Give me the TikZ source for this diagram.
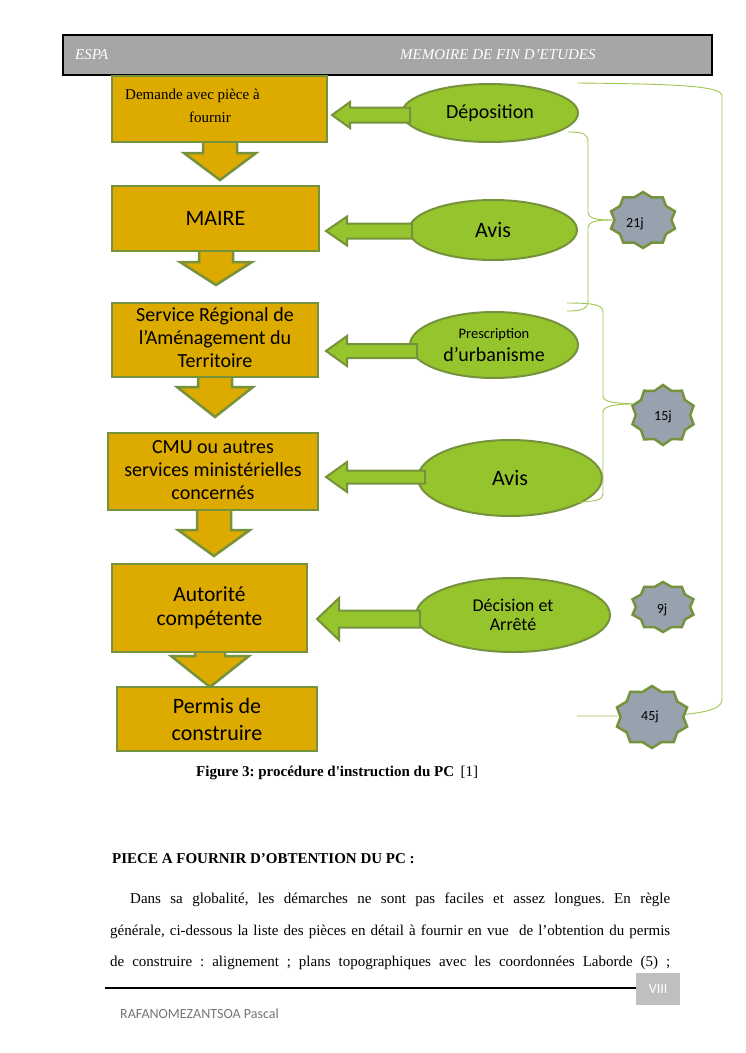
\documentclass[tikz,border=0pt]{standalone}
\usepackage{fontspec}
\setmainfont{Liberation Serif}
\newfontfamily\calibri{Carlito}
\newfontfamily\serifplain[Ligatures=TeXOff]{Liberation Serif}
\usetikzlibrary{shapes.geometric}
\definecolor{gold}{RGB}{221,170,0}
\definecolor{oline}{RGB}{118,146,60}
\definecolor{lgreen}{RGB}{150,196,44}
\definecolor{sgray}{RGB}{151,162,174}
\definecolor{bline}{RGB}{160,198,80}
\definecolor{hgray}{RGB}{166,166,166}
\definecolor{fgray}{RGB}{191,191,191}
\definecolor{ngray}{RGB}{118,118,118}
\frenchspacing
\newcommand\downarr[6]{\draw[darrow] ({#1-#5},#2) -- ({#1+#5},#2) -- ({#1+#5},#3) -- ({#1+#6},#3) -- (#1,#4) -- ({#1-#6},#3) -- ({#1-#5},#3) -- cycle;}
\newcommand\leftarr[6]{\draw[garrow] (#1,#2) -- (#3,{#2-#4}) -- (#3,{#2-#5}) -- (#6,{#2-#5}) -- (#6,{#2+#5}) -- (#3,{#2+#5}) -- (#3,{#2+#4}) -- cycle;}
\begin{document}
\begin{tikzpicture}[x=1pt,y=-1pt,
  gbox/.style={draw=oline, line width=2.5pt, fill=gold, inner sep=0, align=center, font=\calibri\fontsize{20}{23}\selectfont},
  ell/.style={ellipse, draw=oline, line width=2pt, fill=lgreen, inner sep=0, align=center, font=\calibri\fontsize{20}{23}\selectfont},
  garrow/.style={draw=oline, line width=2pt, fill=lgreen, line join=miter},
  darrow/.style={draw=oline, line width=2.5pt, fill=gold, line join=miter},
  starnode/.style={star, star points=10, star point ratio=1.18, draw=oline, line width=2.5pt, fill=sgray, inner sep=0},
  startxt/.style={font=\calibri\fontsize{14}{16}\selectfont, inner sep=0},
  brc/.style={draw=bline, line width=0.9pt},
  body/.style={font=\rmfamily\fontsize{15}{18}\selectfont, inner sep=0, anchor=base west}
]
\fill[white] (0,0) rectangle (745,1053);
\useasboundingbox (0,0) rectangle (745,1053);

% header
\node[draw=black, line width=2pt, fill=hgray, minimum width=649pt, minimum height=40pt, anchor=north west, inner sep=0] (hdr) at (62,34) {};
\node[body, font=\rmfamily\itshape\fontsize{15}{18}\selectfont, text=white] (espa) at (75,59) {ESPA};
\node[body, font=\rmfamily\itshape\fontsize{15}{18}\selectfont, text=white] (mem) at (400,59) {MEMOIRE DE FIN D’ETUDES};

% braces (behind)
\coordinate (bigtop) at (577,83);
\coordinate (bigbot) at (577,716);
\draw[brc] (bigtop) .. controls (680,84) and (722,86) .. (722,96) -- (722,700) .. controls (722,710) and (700,715) .. (652,716) -- (bigbot);

% ellipses
\node[ell, minimum width=176pt, minimum height=58pt] (e1) at (490,113) {Déposition};
\node[ell, minimum width=168pt, minimum height=60pt, font=\calibri\fontsize{22}{24}\selectfont] (e2) at (493,230) {Avis};
\node[ell, minimum width=168pt, minimum height=66pt] (e3) at (494,345) {{\fontsize{14.5}{17}\selectfont Prescription}\\d’urbanisme};
\node[ell, minimum width=184pt, minimum height=76pt, font=\calibri\fontsize{22}{24}\selectfont] (e4) at (510,478) {Avis};
\node[ell, minimum width=194pt, minimum height=74pt, font=\calibri\fontsize{18}{19}\selectfont] (e5) at (513,615) {Décision et\\Arrêté};

% green arrows (ellipse -> box)
\leftarr{332}{115}{350}{13}{7.5}{410}
\leftarr{326}{231}{347}{14.5}{7.5}{412}
\leftarr{326}{351}{347}{15}{7}{417}
\leftarr{326}{477}{347}{15}{6.5}{425}
\leftarr{317}{619}{339}{21}{8.5}{420}

% down arrows
\downarr{220}{140}{153}{180}{17}{36}
\downarr{216}{249}{262}{285}{17}{36}
\downarr{215}{375}{387}{417}{17}{38}
\downarr{214}{508}{530}{556}{17}{36}
\downarr{210}{650}{656}{687}{15}{39}

% boxes
\node[gbox, minimum width=215pt, minimum height=66pt] (b1) at (219.5,109) {};
\node[body] (t1a) at (125,99) {Demande avec pièce à};
\node[body] (t1b) at (189,122) {fournir};
\node[gbox, minimum width=207pt, minimum height=65pt, font=\calibri\fontsize{22}{24}\selectfont] (b2) at (215.5,218.5) {MAIRE};
\node[gbox, minimum width=206pt, minimum height=74pt] (b3) at (215,340) {\raisebox{-4pt}{\begin{tabular}{@{}c@{}}Service Régional de\\l’Aménagement du\\Territoire\end{tabular}}};
\node[gbox, minimum width=210pt, minimum height=77pt] (b4) at (213,471.5) {\raisebox{-3pt}{\begin{tabular}{@{}c@{}}CMU ou autres\\services ministérielles\\concernés\end{tabular}}};
\node[gbox, minimum width=195pt, minimum height=88pt, font=\calibri\fontsize{21.5}{24}\selectfont] (b5) at (209.5,608) {Autorité\\compétente};
\node[gbox, minimum width=200pt, minimum height=64pt, font=\calibri\fontsize{22}{27}\selectfont] (b6) at (217,719) {Permis de\\construire};

% 21j brace
\draw[brc] (568,132) .. controls (584,132) and (588,134) .. (588,142) -- (588,212) .. controls (588,219) and (598,220) .. (612,220);
\draw[brc] (612,220) .. controls (598,220) and (588,221) .. (588,228) -- (588,300) .. controls (588,309) and (582,311) .. (567,311);
% 15j brace
\draw[brc] (567,303) .. controls (595,303) and (603,305) .. (603,312) -- (603,396) .. controls (603,402) and (615,403) .. (633,404);
\draw[brc] (633,404) .. controls (615,404) and (603,406) .. (603,412) -- (603,494) .. controls (603,500) and (595,502) .. (573,502);

% stars
\begin{scope}[shift={(643,220)}, xscale=1.2]
\node[starnode, minimum size=56pt, transform shape] (s21) at (0,0) {};
\end{scope}
\begin{scope}[shift={(663,415)}, xscale=1.07]
\node[starnode, minimum size=60pt, transform shape] (s15) at (0,0) {};
\end{scope}
\begin{scope}[shift={(663,607)}, xscale=1.28]
\node[starnode, minimum size=50pt, transform shape] (s9) at (0,0) {};
\end{scope}
\begin{scope}[shift={(652,717)}, xscale=1.19]
\node[starnode, minimum size=62pt, transform shape] (s45) at (0,0) {};
\end{scope}
\node[startxt] (l21) at (635,224) {21j};
\node[startxt] (l15) at (663,417) {15j};
\node[startxt] (l9) at (662,610) {9j};
\node[startxt] (l45) at (650,717) {45j};

% caption and text
\node[body, font=\serifplain\bfseries\fontsize{15}{18}\selectfont] (cap) at (196,776) {Figure 3: procédure d'instruction du PC};
\node[body] (capref) at ([xshift=6pt]cap.base east) {[1]};
\node[body, font=\rmfamily\bfseries\fontsize{15}{18}\selectfont] (head) at (112,863) {PIECE A FOURNIR D’OBTENTION DU PC :};
\node[body] (p1) at (130,903) {\makebox[540pt][s]{Dans sa globalité, les démarches ne sont pas faciles et assez longues. En règle}};
\node[body] (p2) at (110,935) {\makebox[560pt][s]{générale, ci-dessous la liste des pièces en détail à fournir en vue\ \ de l’obtention du permis}};
\node[body] (p3) at (110,966) {\makebox[560pt][s]{de construire : alignement ; plans topographiques avec les coordonnées Laborde (5) ;}};

% footer
\coordinate (fl) at (105,988);
\node[fill=fgray, minimum width=44pt, minimum height=32pt, inner sep=0, anchor=north west, text=white, font=\calibri\fontsize{14}{16}\selectfont] (pg) at (636,973) {VIII};
\draw[line width=2pt] (fl) -- (pg.west |- fl);
\node[body, font=\calibri\fontsize{14}{16}\selectfont, text=ngray] (auth) at (120,1018) {RAFANOMEZANTSOA Pascal};
\end{tikzpicture}
\end{document}
